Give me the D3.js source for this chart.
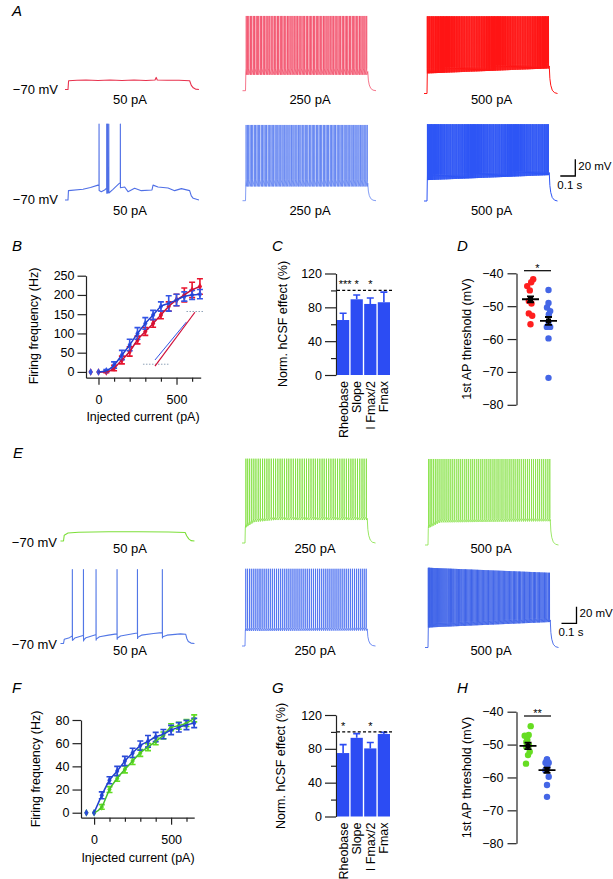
<!DOCTYPE html>
<html><head><meta charset="utf-8">
<script src="https://cdnjs.cloudflare.com/ajax/libs/d3/7.8.5/d3.min.js"></script>
<style>
body{margin:0;background:#fff;}
svg text{font-family:"Liberation Sans",Arial,Helvetica,sans-serif;fill:#000;}
</style></head><body>
<svg id="fig" width="613" height="879"></svg>
<script>
// ================= DATA =================
// Panel B : firing frequency vs injected current (control = red, hCSF = blue)
const currentsB = [-50,0,50,100,150,200,250,300,350,400,450,500,550,600,650];
const redFreqB  = [0,0,0,10,31,53,83,105,126,148,170,187,200,213,222];
const redErrB   = [0,0,2,7,10,12,10,10,10,10,12,15,18,20,20];
const blueFreqB = [0,0,3,18,44,70,100,126,148,170,178,187,196,200,202];
const blueErrB  = [0,0,3,8,12,15,15,15,12,12,20,15,12,12,12];
const insetRedB = [[362,15],[618,155]];
const insetBlueB = [[362,31],[564,130]];
const insetGuideLowB = [[285,20],[457,20]];
const insetGuideHighB = [[564,157],[670,157]];
const freqTicksB = [0,50,100,150,200,250];
const currTicksMajor = [0,500];
const currTicksMinor = [100,200,300,400,600];

// Panels C and G : normalised hCSF effect
const params = ["Rheobase","Slope","I Fmax/2","Fmax"];
const normC = [65,89.5,84,86];
const errC  = [8,5,7,12];
const starsC = ["***","*","*",""];
const normG = [75,93,80.5,97.5];
const errG  = [10,5,7,2];
const starsG = ["*","","*",""];
const normTicks = [0,40,80,120];
const normMinor = [20,60,100];

// Panel D : 1st AP threshold (mV)
const dRed  = [-41.8,-42.7,-43.9,-45.2,-48.4,-49.2,-52.2,-52.9,-55.5];
const dBlue = [-45.1,-49,-50.4,-51.5,-52.5,-54.8,-56.3,-56.3,-59.8,-71.8];
const dMeans = [-47.9,-54.5];
const dSem = [0.9,1.2];
// Panel H
const hGreen = [-44.4,-47.1,-47.3,-48.6,-49.2,-50.2,-50.7,-52.2,-53.2,-55.8];
const hBlue  = [-54.5,-54.5,-55.5,-55.5,-56.5,-57.3,-57.8,-59.8,-62.3,-65.9];
const hMeans = [-50.4,-57.8];
const hSem = [1.0,0.8];
const threshTicks = [-40,-50,-60,-70,-80];

// Panel F
const currentsF = [-50,0,50,100,150,200,250,300,350,400,450,500,550,600,650];
const greenFreqF = [0,0,5,20,29.6,37.4,44.6,51.6,56.6,61.6,66.7,73.7,75,77.4,81.4];
const greenErrF  = [0,0,2,2.5,2.5,3,3,3,3,3,3,3,3,3,3];
const blueFreqF  = [0,0,15,28,36,44.6,51.6,57.9,61.6,65.3,67.8,71.4,73.7,75.7,77.4];
const blueErrF   = [0,0,3,3,4,4,4,4,5,4,4,4,4,4,4];
const freqTicksF = [0,20,40,60,80];

// Voltage traces (time in ms from current-step onset, voltage in mV)
const redA50Knots = [[-20,-70],[0,-70],[4,-59.5],[60,-59],[120,-58.6],[200,-59.2],[280,-58.6],[360,-59.2],[440,-58.6],[520,-59.2],[580,-58.6],[588,-55.5],[595,-58.6],[660,-58.9],[740,-58.9],[811,-59.5],[822,-65],[835,-68],[850,-69.5],[873,-70]];
const blueA50Knots = [[-20,-70],[0,-70],[3,-58.8],[100,-57.2],[150,-55],[200,-52.2],[222,-60],[244,-58],[300,-57.2],[340,-50.4],[378,-54.4],[400,-60],[444,-56],[489,-58.8],[560,-58],[567,-52.2],[600,-54.4],[667,-55.6],[711,-58.8],[756,-56.4],[811,-58.8],[822,-65],[835,-68],[873,-70]];
const blueA50Spikes = [207,258,264,272,349];
const redA250Spikes = [5,14,22,33,41,52,60,71,79,88,99,107,118,126,137,145,156,163,175,183,194,202,213,221,232,241,250,261,269,280,289,298,309,317,328,337,346,357,365,376,385,394,405,413,424,433,442,453,461,472,481,490,501,509,520,529,538,549,557,568,577,586,597,605,616,625,634,645,653,664,673,682,693,701,712,721,730,741,749,760,769,778,789,797,808];
const redA500Spikes = [2,8,15,21,29,35,42,48,56,62,69,76,82,90,96,103,110,116,124,130,137,144,150,158,164,171,178,184,192,198,205,212,218,226,232,239,246,252,260,266,273,280,286,294,300,307,314,320,328,334,341,348,354,362,368,375,382,388,396,402,409,416,422,430,436,443,450,456,464,470,477,484,490,498,504,511,518,524,532,538,545,552,558,566,572,579,586,592,600,606,613,620,626,634,640,647,654,660,668,674,681,688,694,702,708,715,722,728,736,742,749,756,762,770,776,783,790,796,804,810];
const blueA250Spikes = [4,13,21,31,40,48,59,67,77,86,94,105,113,123,132,140,151,159,169,178,186,197,205,215,224,232,243,251,261,270,278,289,297,307,316,324,335,343,353,362,370,381,389,399,408,416,427,435,445,454,462,473,481,491,500,508,519,527,537,546,554,565,573,583,592,600,611,619,629,638,646,657,665,675,684,692,703,711,721,730,738,749,757,767,776,784,795,803,812];
const blueA500Spikes = [3,9,16,23,30,36,44,50,57,64,71,77,85,91,98,105,112,118,126,132,139,146,153,159,167,173,180,187,194,200,208,214,221,228,235,241,249,255,262,269,276,282,290,296,303,310,317,323,331,337,344,351,358,364,372,378,385,392,399,405,413,419,426,433,440,446,454,460,467,474,481,487,495,501,508,515,522,528,536,542,549,556,563,569,577,583,590,597,604,610,618,624,631,638,645,651,659,665,672,679,686,692,700,706,713,720,727,733,741,747,754,761,768,774,782,788,795,802,809];
const greenE50Knots = [[-20,-70],[0,-70],[5,-63],[30,-60.5],[100,-59.5],[300,-59],[500,-59],[700,-59.3],[811,-59.8],[822,-64],[835,-67.5],[850,-69.5],[873,-70]];
const blueE50Knots = [[-20,-70],[0,-70],[5,-65],[40,-63],[58,-61],[62,-66],[75,-63.5],[130,-60.5],[136,-65.5],[150,-63],[214,-59.5],[220,-64.5],[240,-62],[300,-60],[354,-58.5],[360,-63.5],[380,-61],[490,-57.5],[496,-62.5],[520,-60],[600,-58],[656,-57],[662,-62],[690,-60],[780,-58.5],[815,-59],[822,-64],[832,-67.5],[850,-69.5],[873,-70]];
const blueE50Spikes = [59,133,217,357,493,659];
const greenE250Spikes = [6,18,31,45,59,73,88,102,117,131,146,160,175,190,204,219,234,248,263,278,292,307,322,337,351,366,381,396,410,425,440,455,469,484,499,514,528,543,558,573,588,602,617,632,647,661,676,691,706,720,735,750,765,780,794,809];
const greenE500Spikes = [4,14,25,37,49,61,74,87,100,113,126,139,152,165,178,192,205,218,231,245,258,271,285,298,311,325,338,352,365,379,392,406,419,433,446,460,473,487,500,514,527,541,554,568,581,595,608,622,636,649,663,676,690,703,717,731,744,758,771,785,799,812];
const blueE250Spikes = [5,17,30,42,55,68,81,94,106,119,132,145,158,171,184,197,210,223,236,249,262,275,288,301,314,327,340,353,366,379,392,405,418,431,444,457,470,483,496,509,522,535,548,561,574,587,600,613,626,639,652,665,678,691,704,717,730,743,756,769,782,795,808];
const blueE500Spikes = [2,6,10,14,19,24,29,34,40,46,52,58,64,71,78,85,92,99,106,113,120,127,135,142,150,157,165,172,180,188,195,203,211,219,226,234,242,250,258,266,274,282,290,298,306,314,322,330,338,346,354,362,371,379,387,395,403,412,420,428,436,445,453,461,469,478,486,494,502,511,519,527,535,544,552,560,569,577,585,593,602,610,618,627,635,643,652,660,668,677,685,693,702,710,718,727,735,743,752,760,768,777,785,793,802,810];
// spike peak / inter-spike trough levels (mV) at given times
const redA250Peak = [[0,19.5],[815,19.5]],  redA250Trough = [[0,-51],[815,-51]];
const redA500Peak = [[0,22.5],[815,22.5]],  redA500Trough = [[0,-46],[815,-40]];
const blueA250Peak = [[0,20.7],[815,20.7]], blueA250Trough = [[0,-53],[815,-53]];
const blueA500Peak = [[0,22],[815,22]],     blueA500Trough = [[0,-45],[815,-39]];
const greenE250Peak = [[0,31],[815,31]],    greenE250Trough = [[0,-52],[60,-45],[200,-42.5],[815,-42.5]];
const greenE500Peak = [[0,33],[815,33]],    greenE500Trough = [[0,-50],[80,-43],[815,-41.5]];
const blueE250Peak = [[0,22.5],[815,22.5]], blueE250Trough = [[0,-52],[815,-51.5]];
const blueE500Peak = [[0,25.5],[815,19.5]], blueE500Trough = [[0,-46],[815,-39.5]];

// ================= DRAWING =================
const svg = d3.select("#fig");
const AX = "#222";
function styleAxis(sel, fs){
  sel.selectAll("path,line").attr("stroke",AX).attr("stroke-width",1.2);
  sel.selectAll("text").attr("font-size",fs||12.5).attr("fill","#000");
}
function panelLetter(t,x,y){
  svg.append("text").attr("x",x).attr("y",y).attr("font-size",15).attr("font-style","italic").text(t);
}
function yLabel(t,cx,cy){
  svg.append("text").attr("transform",`translate(${cx+4.5},${cy}) rotate(-90)`)
    .attr("text-anchor","middle").attr("font-size",12.5).text(t);
}
function txt(t,x,y,anchor,fs){
  return svg.append("text").attr("x",x).attr("y",y).attr("text-anchor",anchor||"start").attr("font-size",fs||13).text(t);
}

// ---------- traces ----------
const msPx = 0.15, mvPx = 0.835, STEP_END = 815;
function interp(k){ return d3.scaleLinear().domain(k.map(d=>d[0])).range(k.map(d=>d[1])).clamp(true); }
function decayPts(vEnd){ const a=vEnd+70; return [[STEP_END+4,-70+a*0.55],[STEP_END+10,-70+a*0.3],[STEP_END+20,-70+a*0.12],[STEP_END+35,-70+a*0.03],[870,-70]]; }
function spikingTrace(spikes, peakK, troughK, gap){
  const pk=interp(peakK), tr=interp(troughK);
  const pts=[[-20,-70],[0,-70],[2,tr(0)]];
  spikes.forEach(s=>{ pts.push([s-0.4,tr(s)+gap],[s,pk(s)],[s+0.5,tr(s)]); });
  const vEnd=tr(STEP_END)+gap*0.5; pts.push([STEP_END,vEnd]);
  return pts.concat(decayPts(vEnd));
}
function subTrace(knots, spikes, peak){
  const v=interp(knots); const pts=knots.map(k=>[k[0],k[1]]);
  (spikes||[]).forEach(s=>{ const b=v(s); pts.push([s-0.3,b+2],[s,peak],[s+0.6,b-4]); });
  return pts.sort((a,b)=>a[0]-b[0]);
}
function drawTrace(pts, onsetX, baseY, color, w){
  const x=d3.scaleLinear().domain([0,100]).range([onsetX,onsetX+100*msPx]);
  const y=d3.scaleLinear().domain([-70,-50]).range([baseY,baseY-20*mvPx]);
  svg.append("path").attr("d",d3.line().x(d=>x(d[0])).y(d=>y(d[1]))(pts))
    .attr("fill","none").attr("stroke",color).attr("stroke-width",w).attr("stroke-linejoin","round");
}
// Panel A
panelLetter("A",12,16);
drawTrace(subTrace(redA50Knots), 68, 89.5, "#e8324e", 1.1);
drawTrace(spikingTrace(redA250Spikes, redA250Peak, redA250Trough, 8), 245.5, 90.7, "#f24a66", 0.75);
drawTrace(spikingTrace(redA500Spikes, redA500Peak, redA500Trough, 6), 427, 93.5, "#ff1414", 1.0);
drawTrace(subTrace(blueA50Knots, blueA50Spikes, 21), 68, 200, "#4f6fe6", 1.1);
drawTrace(spikingTrace(blueA250Spikes, blueA250Peak, blueA250Trough, 8), 245.5, 200.7, "#5b7df0", 0.75);
drawTrace(spikingTrace(blueA500Spikes, blueA500Peak, blueA500Trough, 6), 427, 201, "#2d55f5", 1.0);
txt("\u221270 mV",58,94,"end"); txt("\u221270 mV",58,204,"end");
txt("50 pA",130,104,"middle"); txt("250 pA",310,104,"middle"); txt("500 pA",491.5,104,"middle");
txt("50 pA",130,215,"middle"); txt("250 pA",310,215,"middle"); txt("500 pA",491.5,215,"middle");
function scaleBar(x,yb,h){
  svg.append("path").attr("d",`M${x-15},${yb}H${x}V${yb-h}`).attr("fill","none").attr("stroke","#000").attr("stroke-width",1.3);
  txt("20 mV",x+3,yb-6,"start",11.5); txt("0.1 s",x-18,yb+13,"start",11.5);
}
scaleBar(575.3,176,16.7);

// Panel E
panelLetter("E",13,458);
drawTrace(subTrace(greenE50Knots), 63.5, 541, "#7ddf3a", 1.1);
drawTrace(spikingTrace(greenE250Spikes, greenE250Peak, greenE250Trough, 4), 245, 543, "#7ddf3a", 0.8);
drawTrace(spikingTrace(greenE500Spikes, greenE500Peak, greenE500Trough, 4), 428, 545, "#86e246", 0.8);
drawTrace(subTrace(blueE50Knots, blueE50Spikes, 18.7), 63.5, 643.5, "#5277e6", 1.1);
drawTrace(spikingTrace(blueE250Spikes, blueE250Peak, blueE250Trough, 4), 245, 646, "#4a6ff0", 0.8);
drawTrace(spikingTrace(blueE500Spikes, blueE500Peak, blueE500Trough, 5), 428, 647.5, "#3d62e8", 0.9);
txt("\u221270 mV",57,547,"end"); txt("\u221270 mV",57,649,"end");
txt("50 pA",130,553,"middle"); txt("250 pA",315,553,"middle"); txt("500 pA",491,553,"middle");
txt("50 pA",130,655,"middle"); txt("250 pA",315,655,"middle"); txt("500 pA",491,655,"middle");
scaleBar(576.5,623.3,16.5);

// ---------- F-I curves (B, F) ----------
function fiPanel(o){
  const x=d3.scaleLinear().domain(o.xDom).range(o.xRange);
  const y=d3.scaleLinear().domain(o.yDom).range(o.yRange);
  const g=svg.append("g");
  g.append("g").attr("transform",`translate(${o.xRange[0]},0)`)
    .call(d3.axisLeft(y).tickValues(o.yTicks).tickSize(8.5).tickSizeOuter(0).tickPadding(3)).call(styleAxis);
  const ax=g.append("g").attr("transform",`translate(0,${o.yRange[0]})`);
  ax.call(d3.axisBottom(x).tickValues(currTicksMajor).tickSize(7).tickSizeOuter(0).tickPadding(10)).call(styleAxis);
  g.append("g").attr("transform",`translate(0,${o.yRange[0]})`)
    .call(d3.axisBottom(x).tickValues(currTicksMinor).tickSize(4).tickFormat("")).call(styleAxis)
    .select(".domain").remove();
  o.series.forEach(s=>{
    const eg=g.append("g").attr("stroke",s.color).attr("stroke-width",1.6).attr("fill","none");
    o.xs.forEach((c,i)=>{
      if(s.err[i]<=0) return;
      const cx=x(c), y1=y(s.v[i]+s.err[i]), y0=y(s.v[i]-s.err[i]);
      eg.append("path").attr("d",`M${cx},${y0}V${y1}M${cx-3},${y0}H${cx+3}M${cx-3},${y1}H${cx+3}`);
    });
    g.append("g").selectAll("path").data(o.xs).join("path")
      .attr("transform",(c,i)=>`translate(${x(c)},${y(s.v[i])})`)
      .attr("d",d3.symbol(d3.symbolDiamond,16)).attr("fill",s.color);
  });
  o.series.forEach(s=>{
    const pts=o.xs.map((c,i)=>[c,s.v[i]]).slice(1);
    g.append("path").attr("d",d3.line().x(d=>x(d[0])).y(d=>y(d[1])).curve(d3.curveMonotoneX)(pts))
      .attr("fill","none").attr("stroke",s.line).attr("stroke-width",1.5);
  });
  return {x,y,g};
}
panelLetter("B",12,251);
const pb = fiPanel({xDom:[-80,655], xRange:[86,200.7], yDom:[-15,250], yRange:[377.7,275.7], yTicks:freqTicksB, xs:currentsB,
  series:[{v:redFreqB,err:redErrB,color:"#e8142e",line:"#c8103a"},{v:blueFreqB,err:blueErrB,color:"#3355e6",line:"#2040d0"}]});
function seg(p,pts,color,w,dash){
  p.g.append("path").attr("d",d3.line().x(d=>p.x(d[0])).y(d=>p.y(d[1]))(pts))
    .attr("fill","none").attr("stroke",color).attr("stroke-width",w).attr("stroke-dasharray",dash||null);
}
seg(pb,insetGuideLowB,"#8fa3b8",1,"1.5,1.5");
seg(pb,insetGuideHighB,"#8fa3b8",1,"1.5,1.5");
seg(pb,insetBlueB,"#3355e6",1);
seg(pb,insetRedB,"#d0103a",1.2);
yLabel("Firing frequency (Hz)",33,326);
txt("Injected current (pA)",143,420.5,"middle",12.5);

panelLetter("F",12,693);
fiPanel({xDom:[-85,650], xRange:[81,194.2], yDom:[-4.3,80], yRange:[817.7,720], yTicks:freqTicksF, xs:currentsF,
  series:[{v:greenFreqF,err:greenErrF,color:"#62dd22",line:"#46c02a"},{v:blueFreqF,err:blueErrF,color:"#2a4ad8",line:"#2040d0"}]});
yLabel("Firing frequency (Hz)",35,769);
txt("Injected current (pA)",138,862,"middle",12.5);

// ---------- bar charts (C, G) ----------
function barPanel(vals, errs, stars, y0){
  const x=d3.scaleBand().domain(params).range([337,390]).paddingInner(0.1);
  const y=d3.scaleLinear().domain([0,120]).range([y0,y0-101.5]);
  const g=svg.append("g");
  g.append("g").attr("transform","translate(336,0)")
    .call(d3.axisLeft(y).tickValues(normTicks).tickSize(11).tickSizeOuter(0).tickPadding(3)).call(styleAxis);
  g.append("g").attr("transform","translate(336,0)")
    .call(d3.axisLeft(y).tickValues(normMinor).tickSize(5).tickFormat("")).call(styleAxis).select(".domain").remove();
  const col="#2c4cf3";
  params.forEach((p,i)=>{
    const cx=x(p)+x.bandwidth()/2;
    g.append("rect").attr("x",x(p)).attr("width",x.bandwidth()).attr("y",y(vals[i])).attr("height",y(0)-y(vals[i])).attr("fill",col);
    g.append("path").attr("d",`M${cx},${y(vals[i])}V${y(vals[i]+errs[i])}M${cx-3.5},${y(vals[i]+errs[i])}H${cx+3.5}`)
      .attr("stroke",col).attr("stroke-width",1.6).attr("fill","none");
    g.append("text").attr("transform",`translate(${cx+4.5},${y0+6}) rotate(-90)`).attr("text-anchor","end").attr("font-size",12.5).text(p);
    if(stars[i]) g.append("text").attr("x",cx+ (stars[i].length>1?2:0)).attr("y",y(100)-2).attr("text-anchor","middle").attr("font-size",11).text(stars[i]);
  });
  g.append("line").attr("x1",337).attr("x2",393).attr("y1",y(100)).attr("y2",y(100))
    .attr("stroke","#000").attr("stroke-width",1.3).attr("stroke-dasharray","3,2.2");
}
panelLetter("C",272,251);
barPanel(normC, errC, starsC, 375);
yLabel("Norm. hCSF effect (%)",282,324);
panelLetter("G",272,693);
barPanel(normG, errG, starsG, 816.5);
yLabel("Norm. hCSF effect (%)",280,766);

// ---------- scatter (D, H) ----------
function scatterPanel(groups, means, sems, topY, sigY, sigText){
  const y=d3.scaleLinear().domain([-40,-80]).range([topY,topY+131.5]);
  const g=svg.append("g");
  g.append("g").attr("transform","translate(516.5,0)")
    .call(d3.axisLeft(y).tickValues(threshTicks).tickSize(9).tickSizeOuter(0).tickPadding(4)).call(styleAxis);
  const jit=[[2.7,0.7,-3.3,-0.7,-1.7,1,-1.7,1.7,0,-2],[0,0,-1.5,1.7,0.3,0,-1.7,1.7,0,0]];
  groups.forEach((gr,k)=>{
    g.selectAll(null).data(gr.v).join("circle").attr("cx",(d,i)=>gr.cx+jit[k][i%10]).attr("cy",d=>y(d)).attr("r",3.2).attr("fill",gr.color);
  });
  groups.forEach((gr,k)=>{
    const m=y(means[k]), e1=y(means[k]+sems[k]), e0=y(means[k]-sems[k]), cx=gr.cx;
    g.append("path").attr("d",`M${cx},${e0}V${e1}M${cx-3.5},${e0}H${cx+3.5}M${cx-3.5},${e1}H${cx+3.5}M${cx-8.5},${m}H${cx+8.5}`)
      .attr("stroke","#000").attr("stroke-width",1.8).attr("fill","none");
    g.append("rect").attr("x",cx-2.5).attr("y",m-2.5).attr("width",5).attr("height",5).attr("fill","#000");
  });
  g.append("line").attr("x1",524).attr("x2",551).attr("y1",sigY).attr("y2",sigY).attr("stroke","#000").attr("stroke-width",1.2);
  g.append("text").attr("x",537.5).attr("y",sigY+1).attr("text-anchor","middle").attr("font-size",11).text(sigText);
}
panelLetter("D",457,251);
scatterPanel([{v:dRed,cx:530.5,color:"#ff1f1f"},{v:dBlue,cx:548.5,color:"#4466e6"}], dMeans, dSem, 273.3, 270.7, "*");
yLabel("1st AP threshold (mV)",466.5,339);
panelLetter("H",457,693);
scatterPanel([{v:hGreen,cx:528,color:"#66dd22"},{v:hBlue,cx:547,color:"#4466e6"}], hMeans, hSem, 711.7, 716, "**");
yLabel("1st AP threshold (mV)",466,777.5);
</script>
</body></html>
